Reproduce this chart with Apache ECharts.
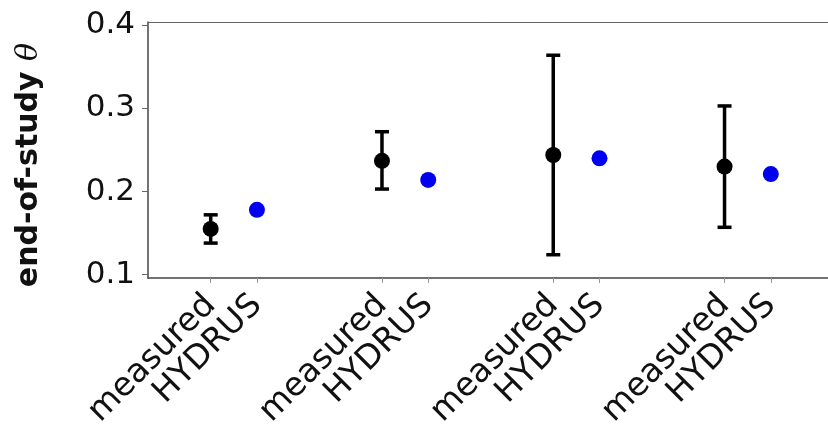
<!DOCTYPE html>
<html>
<head>
<meta charset="utf-8">
<script src="https://cdn.jsdelivr.net/npm/echarts@6/dist/echarts.min.js"></script>
<style>
  html, body { margin: 0; padding: 0; background: #fff; }
  #chart { width: 828px; height: 433px; }
</style>
</head>
<body>
<div id="chart"></div>
<script>
  // 四组：measured 与 HYDRUS 的对比
  var groupPos = [1, 2, 3, 4];
  var hydrusOffset = 0.27;
  var measuredMean = [0.155, 0.237, 0.244, 0.230];
  var measuredLow = [0.138, 0.203, 0.124, 0.157];
  var measuredHigh = [0.172, 0.272, 0.364, 0.303];
  var hydrusMean = [0.178, 0.214, 0.240, 0.221];
  var yTicks = [0.1, 0.2, 0.3, 0.4];
  var xMin = 0.634, xMax = 4.604;

  var measuredData = [], hydrusData = [], errData = [], mTicks = [], hTicks = [];
  for (var i = 0; i < groupPos.length; i++) {
    measuredData.push([groupPos[i], measuredMean[i]]);
    hydrusData.push([groupPos[i] + hydrusOffset, hydrusMean[i]]);
    errData.push([groupPos[i], measuredLow[i], measuredHigh[i]]);
    mTicks.push(groupPos[i]);
    hTicks.push(groupPos[i] + hydrusOffset);
  }

  // 底部两条轴分别放 measured / HYDRUS 标签，避免互相遮挡被隐藏
  function bottomAxis(ticks, text, showLine) {
    return {
      type: 'value',
      position: 'bottom',
      min: xMin,
      max: xMax,
      splitLine: { show: false },
      axisLine: { show: showLine, lineStyle: { color: '#444', width: 1.5 } },
      axisTick: { show: true, customValues: ticks, length: 5, lineStyle: { color: '#999' } },
      axisLabel: {
        customValues: ticks,
        rotate: 45,
        margin: 22,
        fontFamily: 'DejaVu Sans',
        fontSize: 33,
        color: '#111',
        formatter: function () { return text; }
      }
    };
  }

  var chart = echarts.init(document.getElementById('chart'));
  chart.setOption({
    animation: false,
    grid: {
      left: 148, right: 0, top: 22, bottom: 155,
      outerBoundsMode: 'none',
      containLabel: false
    },
    xAxis: [
      bottomAxis(mTicks, 'measured', true),
      bottomAxis(hTicks, 'HYDRUS', false),
      {
        // 顶部边框
        type: 'value',
        position: 'top',
        min: xMin,
        max: xMax,
        splitLine: { show: false },
        axisLine: { show: true, lineStyle: { color: '#666', width: 1 } },
        axisTick: { show: false },
        axisLabel: { show: false }
      }
    ],
    yAxis: {
      type: 'value',
      min: 0.096,
      max: 0.404,
      name: 'end-of-study {i|θ}',
      nameLocation: 'middle',
      nameGap: 104,
      nameTextStyle: {
        fontFamily: 'DejaVu Sans',
        fontWeight: 'bold',
        fontSize: 30,
        color: '#111',
        padding: [0, 0, 0, -30],
        rich: {
          i: { fontFamily: 'DejaVu Serif', fontStyle: 'italic', fontWeight: 'normal', fontSize: 30, color: '#111' }
        }
      },
      splitLine: { show: false },
      axisLine: { show: true, lineStyle: { color: '#444', width: 1.5 } },
      axisTick: { show: true, customValues: yTicks, length: 6, lineStyle: { color: '#666' } },
      axisLabel: {
        customValues: yTicks,
        margin: 13,
        fontFamily: 'DejaVu Sans',
        fontSize: 31,
        color: '#111',
        formatter: function (v) { return v.toFixed(1); }
      }
    },
    series: [
      {
        name: 'err',
        type: 'custom',
        data: errData,
        renderItem: function (params, api) {
          var x = api.value(0);
          var lo = api.coord([x, api.value(1)]);
          var hi = api.coord([x, api.value(2)]);
          var w = 7;
          var st = { stroke: '#000', lineWidth: 3.5 };
          return {
            type: 'group',
            children: [
              { type: 'line', shape: { x1: lo[0], y1: lo[1], x2: hi[0], y2: hi[1] }, style: st },
              { type: 'line', shape: { x1: lo[0] - w, y1: lo[1], x2: lo[0] + w, y2: lo[1] }, style: st },
              { type: 'line', shape: { x1: hi[0] - w, y1: hi[1], x2: hi[0] + w, y2: hi[1] }, style: st }
            ]
          };
        },
        z: 2
      },
      {
        name: 'measured',
        type: 'scatter',
        data: measuredData,
        symbolSize: 16,
        itemStyle: { color: '#000', opacity: 1 },
        z: 3
      },
      {
        name: 'HYDRUS',
        type: 'scatter',
        data: hydrusData,
        symbolSize: 16,
        itemStyle: { color: '#0000ee', opacity: 1 },
        z: 3
      }
    ]
  });
</script>
</body>
</html>
